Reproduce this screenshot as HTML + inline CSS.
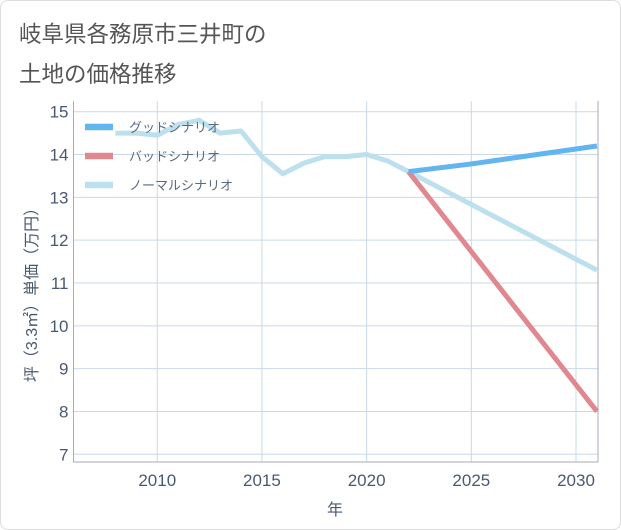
<!DOCTYPE html>
<html><head><meta charset="utf-8"><style>
body{margin:0;background:#fff;font-family:"Liberation Sans","Noto Sans CJK JP",sans-serif}
#wrap{position:relative;width:619px;height:528px;border:1px solid #ddd;border-radius:8px;overflow:hidden}
.title{position:absolute;left:18px;top:14px;font-size:22.5px;line-height:40px;color:#555}
</style></head><body>
<div id="wrap">
<div class="title">岐阜県各務原市三井町の<br>土地の価格推移</div>
<svg id="c" width="621" height="530" style="position:absolute;left:0;top:0"></svg>
</div>
<script>
const normalYears=[2008,2009,2010,2011,2012,2013,2014,2015,2016,2017,2018,2019,2020,2021,2022,2031];
const normalVals=[14.5,14.5,14.45,14.7,14.8,14.5,14.55,13.95,13.55,13.8,13.95,13.95,14.0,13.85,13.6,11.3];
const goodYears=[2022,2025,2031];
const goodVals=[13.6,13.78,14.2];
const badYears=[2022,2031];
const badVals=[13.6,8.0];
const xTicks=[2010,2015,2020,2025,2030];
const yTicks=[7,8,9,10,11,12,13,14,15];
const L=72.5,R=597,T=100,B=461,X0=2006,X1=2031.05,Y0=6.82,Y1=15.25;
const sx=v=>L+(v-X0)/(X1-X0)*(R-L), sy=v=>B-(v-Y0)/(Y1-Y0)*(B-T);
const svg=document.getElementById('c'),NS='http://www.w3.org/2000/svg';
function mk(t,a,p){const e=document.createElementNS(NS,t);for(const k in a)e.setAttribute(k,a[k]);(p||svg).appendChild(e);return e;}
xTicks.forEach(v=>{const l=mk('line',{x1:sx(v),x2:sx(v),y1:T,y2:B,stroke:'#c9d9e8','stroke-width':1});


const t=mk('text',{x:sx(v),y:B+24,'text-anchor':'middle','font-size':17,fill:'#4a5a6e'});t.textContent=v;

});
yTicks.forEach(v=>{const l=mk('line',{x1:L,x2:R,y1:sy(v),y2:sy(v),stroke:'#c9d9e8','stroke-width':1});


const t=mk('text',{x:L-5,y:sy(v)+6,'text-anchor':'end','font-size':17,fill:'#4a5a6e'});t.textContent=v;

});
const ax=mk('path',{d:`M${L},${T}V${B}H${R}V${T}`,fill:'none',stroke:'#aab','stroke-width':1});


function line(xs,ys,c,name){const d=xs.map((x,i)=>(i?'L':'M')+sx(x)+','+sy(ys[i])).join('');
const p=mk('path',{d,fill:'none',stroke:c,'stroke-width':5,'stroke-linejoin':'round'});

}
line(normalYears,normalVals,'#bde0ee','normal-scenario-line');
line(badYears,badVals,'#e0878f','bad-scenario-line');
line(goodYears,goodVals,'#63b5f0','good-scenario-line');
const leg=[['グッドシナリオ','#63b5f0',126],['バッドシナリオ','#e0878f',155],['ノーマルシナリオ','#bde0ee',184]];
leg.forEach(([n,c,y])=>{const l=mk('line',{x1:84,x2:112,y1:y,y2:y,stroke:c,'stroke-width':6.5});


const t=mk('text',{x:128,y:y+5,'font-size':13,fill:'#5a6a7e'});t.textContent=n;

});
const xt=mk('text',{x:334,y:514,'text-anchor':'middle','font-size':16,fill:'#4a5a6e'});xt.textContent='年';


const yt=mk('text',{x:0,y:0,'text-anchor':'middle','font-size':16,fill:'#4a5a6e',transform:'translate(36,290) rotate(-90)'});yt.textContent='坪（3.3㎡）単価（万円）';


</script>
</body></html>
